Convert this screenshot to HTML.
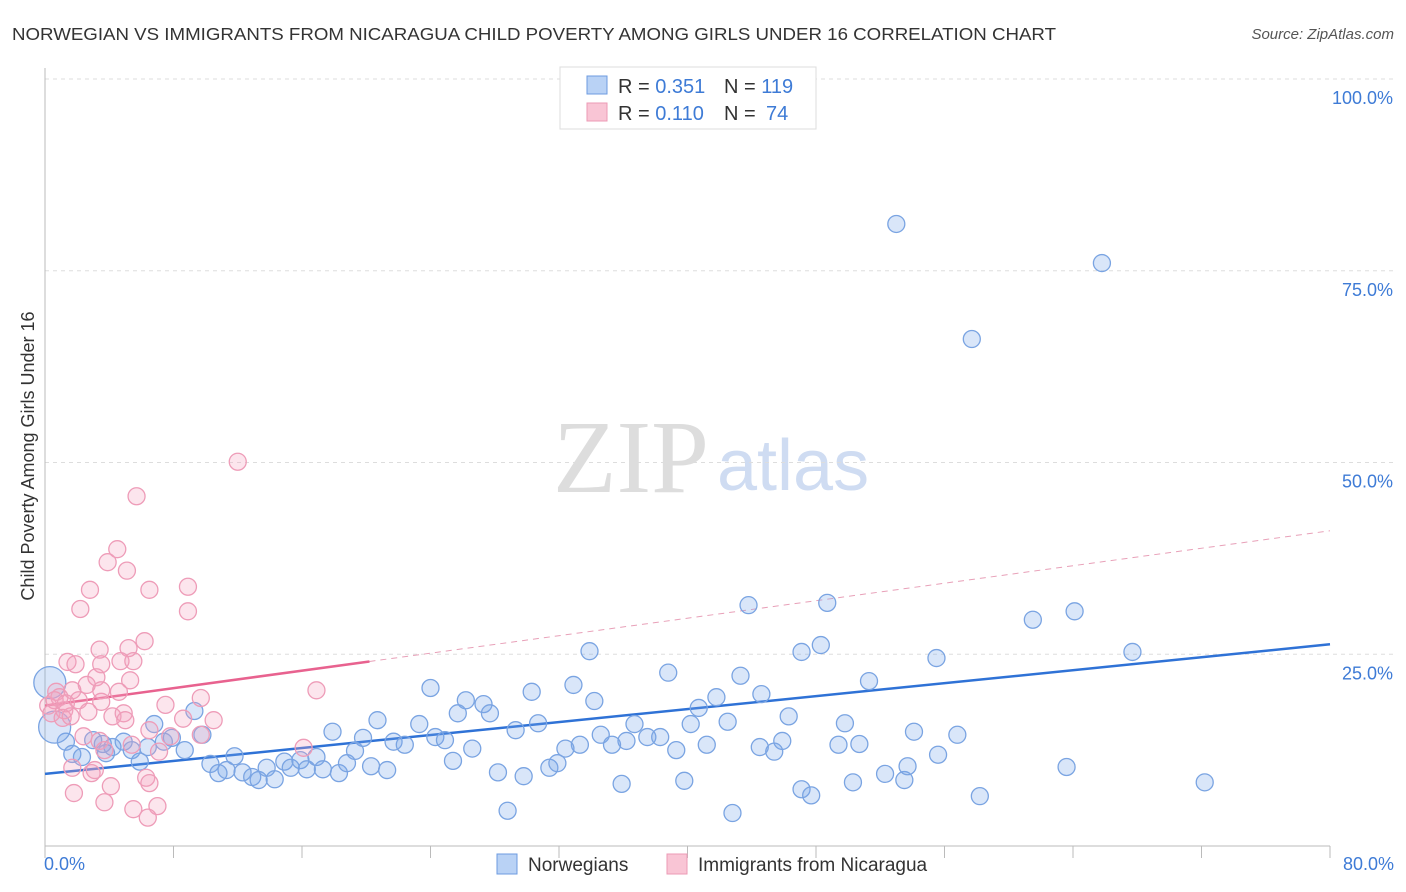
<!DOCTYPE html>
<html><head><meta charset="utf-8"><style>
body{margin:0;background:#fff;font-family:"Liberation Sans",sans-serif}
svg{display:block}
</style></head><body>
<svg id="chart" width="1406" height="892">
<text x="12" y="40" font-size="17.5" fill="#333" textLength="1044" lengthAdjust="spacingAndGlyphs">NORWEGIAN VS IMMIGRANTS FROM NICARAGUA CHILD POVERTY AMONG GIRLS UNDER 16 CORRELATION CHART</text>
<text x="1394" y="39" font-size="15" fill="#555" font-style="italic" text-anchor="end">Source: ZipAtlas.com</text>
<text x="553" y="492" font-size="104" fill="#ddd" font-family="Liberation Serif,serif">ZIP</text>
<text x="717" y="490" font-size="72" fill="#cfdcf2">atlas</text>
<text transform="translate(34,456) rotate(-90)" font-size="18" fill="#333" text-anchor="middle">Child Poverty Among Girls Under 16</text>
<g id="grid"></g><g id="axes"></g><g id="lines"></g><g id="pts"></g>
<g>
<rect x="560" y="67" width="256" height="62" fill="#fff" stroke="#ddd"/>
<rect x="587" y="76" width="20" height="18" fill="#b9d2f5" stroke="#6d9be0"/>
<rect x="587" y="103" width="20" height="18" fill="#f9c5d5" stroke="#ec9ab5"/>
<text x="618" y="93" font-size="20" fill="#333">R = <tspan fill="#3e7bd6">0.351</tspan><tspan x="724">N = </tspan><tspan fill="#3e7bd6">119</tspan></text>
<text x="618" y="120" font-size="20" fill="#333">R = <tspan fill="#3e7bd6">0.110</tspan><tspan x="724">N = </tspan><tspan x="766" fill="#3e7bd6">74</tspan></text>
</g>
<g>
<rect x="497" y="854" width="20" height="20" fill="#b9d2f5" stroke="#6d9be0"/>
<text x="528" y="871" font-size="19" fill="#333">Norwegians</text>
<rect x="667" y="854" width="20" height="20" fill="#f9c5d5" stroke="#ec9ab5"/>
<text x="698" y="871" font-size="19" fill="#333">Immigrants from Nicaragua</text>
</g>
</svg>
<script>
const yTicks=[25,50,75,100];
const yTickLabels=["25.0%","50.0%","75.0%","100.0%"];
const xTickLabels=["0.0%","80.0%"];
const blueX=[53.0,65.8,57.7,43.8,48.7,64.1,61.5,48.3,47.1,67.7,33.9,55.5,38.8,43.3,51.3,32.9,24.0,30.3,44.6,41.8,26.2,34.2,27.3,40.7,25.7,27.7,9.3,46.3,20.7,42.5,23.3,30.7,36.7,40.2,49.8,6.8,17.9,29.3,34.6,54.1,56.8,24.3,24.9,37.5,38.3,9.8,7.9,36.2,45.9,19.8,21.7,22.4,26.6,33.3,35.3,41.2,44.5,49.4,50.7,39.3,32.4,45.4,55.6,19.3,7.4,8.7,4.9,3.0,6.4,4.2,3.6,1.3,1.7,2.3,3.8,5.4,5.9,11.8,10.3,11.3,10.8,12.3,12.9,13.3,13.8,14.3,14.9,15.3,15.9,16.3,16.9,17.3,18.3,18.8,20.3,21.3,25.4,28.2,29.8,31.4,31.9,35.9,39.8,50.3,52.3,53.5,53.7,63.6,72.2,47.1,47.7,58.2,28.8,42.8,0.3,0.6];
const blueY=[81.1,76.0,66.1,31.4,31.7,30.6,29.5,26.2,25.3,25.3,25.4,24.5,22.6,22.2,21.5,21.0,20.6,20.1,19.8,19.4,19.0,18.9,18.5,18.0,17.3,17.3,17.6,16.9,16.4,16.2,15.9,16.0,15.9,15.9,16.0,15.9,14.9,15.1,14.5,14.9,14.5,14.2,13.8,14.2,14.2,14.5,14.1,13.7,13.7,14.1,13.6,13.2,12.7,13.2,13.2,13.2,12.9,13.2,13.3,12.5,12.7,12.3,11.9,12.4,13.6,12.5,13.6,13.8,12.9,12.9,13.3,13.6,12.0,11.6,12.1,12.5,11.0,11.7,10.7,9.9,9.5,9.6,9.0,8.6,10.2,8.7,11.0,10.2,11.2,10.0,11.6,10.0,9.5,10.8,10.4,9.9,11.1,9.6,9.1,10.2,10.8,8.1,8.5,8.3,9.4,8.6,10.4,10.3,8.3,7.4,6.6,6.5,4.6,4.3,21.3,15.5];
const blueR=blueX.map((v,i)=>i>=blueX.length-2?16:8.5);
const pinkX=[12.0,5.7,4.5,3.9,5.1,2.8,6.5,8.9,2.2,8.9,6.2,3.4,5.2,1.4,1.9,3.5,4.7,5.5,3.2,5.3,2.6,1.7,3.5,4.6,0.7,0.9,2.1,3.5,9.7,16.9,7.5,0.2,0.4,1.2,2.7,4.2,4.9,8.6,10.5,1.1,1.6,5.0,6.5,7.8,9.7,2.4,3.4,5.4,3.7,7.1,16.1,1.7,2.9,6.3,6.5,4.1,1.8,3.7,5.5,7.0,6.4,3.1,0.6,1.3];
const pinkY=[50.1,45.6,38.7,37.0,35.9,33.4,33.4,33.8,30.9,30.6,26.7,25.6,25.8,24.0,23.7,23.7,24.1,24.1,22.0,21.6,21.0,20.3,20.3,20.1,20.1,19.4,19.0,18.8,19.3,20.3,18.4,18.3,17.3,17.7,17.5,16.9,17.3,16.6,16.4,16.7,16.9,16.4,15.1,14.3,14.5,14.3,13.7,13.2,12.5,12.3,12.8,10.2,9.5,8.9,8.2,7.8,6.9,5.7,4.8,5.2,3.7,9.9,19.0,18.6];
const blueTrend=[9.4,26.3];
const pinkTrend=[18.3,41.1];
const X0=45,X1=1330,Y0=846,PXY=7.67;
const sx=v=>X0+(X1-X0)*v/80, sy=v=>Y0-v*PXY;
const NS="http://www.w3.org/2000/svg";
function mk(tag,attrs,parent){const e=document.createElementNS(NS,tag);for(const k in attrs)e.setAttribute(k,attrs[k]);document.getElementById(parent).appendChild(e);return e;}
yTicks.forEach((t,i)=>{
 const g=mk('line',{x1:X0,x2:1394,y1:sy(t),y2:sy(t),stroke:'#ddd','stroke-dasharray':'4,4'},'grid');
 
 
 const l=mk('text',{x:1393,y:sy(t)+25,'font-size':18,fill:'#3e7bd6','text-anchor':'end'},'grid');
 l.textContent=yTickLabels[i];
 
 
});
const ax=mk('line',{x1:X0,x2:X1,y1:Y0,y2:Y0,stroke:'#bbb'},'axes');


const ay=mk('line',{x1:X0,x2:X0,y1:68,y2:Y0,stroke:'#bbb'},'axes');


for(let i=0;i<=10;i++){const t=mk('line',{x1:sx(i*8),x2:sx(i*8),y1:Y0,y2:Y0+12,stroke:'#bbb'},'axes');
 
 }
[[0,'start',44],[80,'end',1394]].forEach((d,i)=>{const t=mk('text',{x:d[2],y:870,'font-size':18,fill:'#3e7bd6','text-anchor':d[1]},'axes');t.textContent=xTickLabels[i];
 
 });
const pt=x=>pinkTrend[0]+(pinkTrend[1]-pinkTrend[0])*x/80;
const bt=x=>blueTrend[0]+(blueTrend[1]-blueTrend[0])*x/80;
let e=mk('line',{x1:sx(20.2),y1:sy(pt(20.2)),x2:sx(80),y2:sy(pt(80)),stroke:'#e8a0b8','stroke-dasharray':'6,5','stroke-width':1},'lines');


e=mk('line',{x1:sx(0),y1:sy(pt(0)),x2:sx(20.2),y2:sy(pt(20.2)),stroke:'#e8628f','stroke-width':2.5},'lines');


e=mk('line',{x1:sx(0),y1:sy(bt(0)),x2:sx(80),y2:sy(bt(80)),stroke:'#2f72d6','stroke-width':2.5},'lines');


blueX.forEach((x,i)=>{const c=mk('circle',{cx:sx(x),cy:sy(blueY[i]),r:blueR[i],fill:'rgba(120,165,235,0.28)',stroke:'#7aa4e2','stroke-width':1.3},'pts');
 
 });
pinkX.forEach((x,i)=>{const c=mk('circle',{cx:sx(x),cy:sy(pinkY[i]),r:8.5,fill:'rgba(245,160,190,0.28)',stroke:'#ee9cb8','stroke-width':1.3},'pts');
 
 });
</script>
</body></html>
